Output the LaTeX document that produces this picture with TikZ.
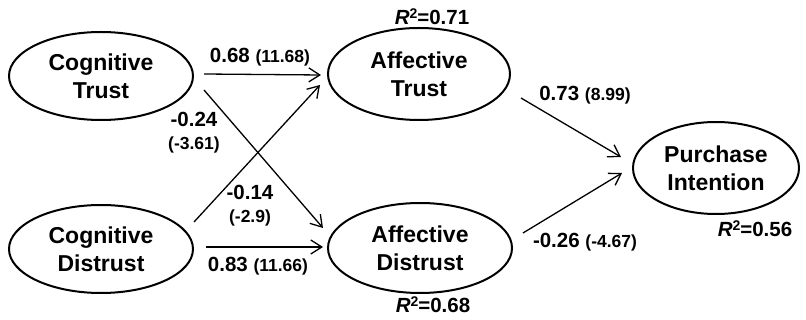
\documentclass[tikz,border=0pt]{standalone}
\usepackage{fontspec}
\setmainfont{Liberation Sans}
\usetikzlibrary{shapes.geometric,arrows.meta,calc}
\newcommand\rsq[1]{\textit{R}\raisebox{0.55ex}{\fontsize{14}{14}\selectfont 2}=#1}
\newcommand\tv[1]{{\fontsize{17.5}{20}\selectfont #1}}
\begin{document}
\begin{tikzpicture}[x=1pt,y=-1pt,
  lat/.style={draw, ellipse, line width=2pt, inner sep=0pt, align=center,
    font=\fontsize{23}{28}\selectfont\bfseries},
  link/.style={-{Straight Barb[length=11pt,width=14pt,line width=1.3pt]}, line width=1.3pt},
  coef/.style={inner sep=0pt, align=center, font=\fontsize{20.5}{23}\selectfont\bfseries},
  rlab/.style={inner sep=0pt, font=\fontsize{20.5}{24}\selectfont\bfseries}]
\useasboundingbox (0,0) rectangle (806,320);

\node[lat, minimum width=184pt, minimum height=88pt] (ct) at (101,76) {Cognitive\\Trust};
\node[lat, minimum width=182pt, minimum height=92pt] (at) at (419,74) {Affective\\Trust};
\node[lat, minimum width=184pt, minimum height=88pt] (cd) at (101,249) {Cognitive\\Distrust};
\node[lat, minimum width=184pt, minimum height=90pt] (ad) at (420,248) {Affective\\Distrust};
\node[lat, minimum width=166pt, minimum height=92pt] (pi) at (716,168) {Purchase\\Intention};

\draw[link] ($(ct.east)+(10,-2)$) -- ($(at.west)+(-6,1)$);
\draw[link] ($(ct.east)+(10,14)$) -- ($(ad.west)+(-4,-20)$);
\draw[link] ($(cd.east)+(0,-27)$) -- ($(at.west)+(-7,11)$);
\draw[link] ($(cd.east)+(12,-2)$) -- ($(ad.west)+(-4,-1)$);
\draw[link] ($(at.east)+(10,24)$) -- ($(pi.west)+(-11,-11)$);
\draw[link] ($(ad.east)+(10,-15)$) -- ($(pi.west)+(-10,5)$);

\node[coef] (l1) at (260,57) {0.68 \tv{(11.68)}};
\node[coef] (l2) at (194,133) {-0.24\\\tv{(-3.61)}};
\node[coef] (l3) at (250,206) {-0.14\\\tv{(-2.9)}};
\node[coef] (l4) at (258,266) {0.83 \tv{(11.66)}};
\node[coef] (l5) at (585,95) {0.73 \tv{(8.99)}};
\node[coef] (l6) at (585,242) {-0.26 \tv{(-4.67)}};

\node[rlab] (r1) at (432,17) {\rsq{0.71}};
\node[rlab] (r2) at (433,305) {\rsq{0.68}};
\node[rlab] (r3) at (755,229) {\rsq{0.56}};
\end{tikzpicture}
\end{document}
